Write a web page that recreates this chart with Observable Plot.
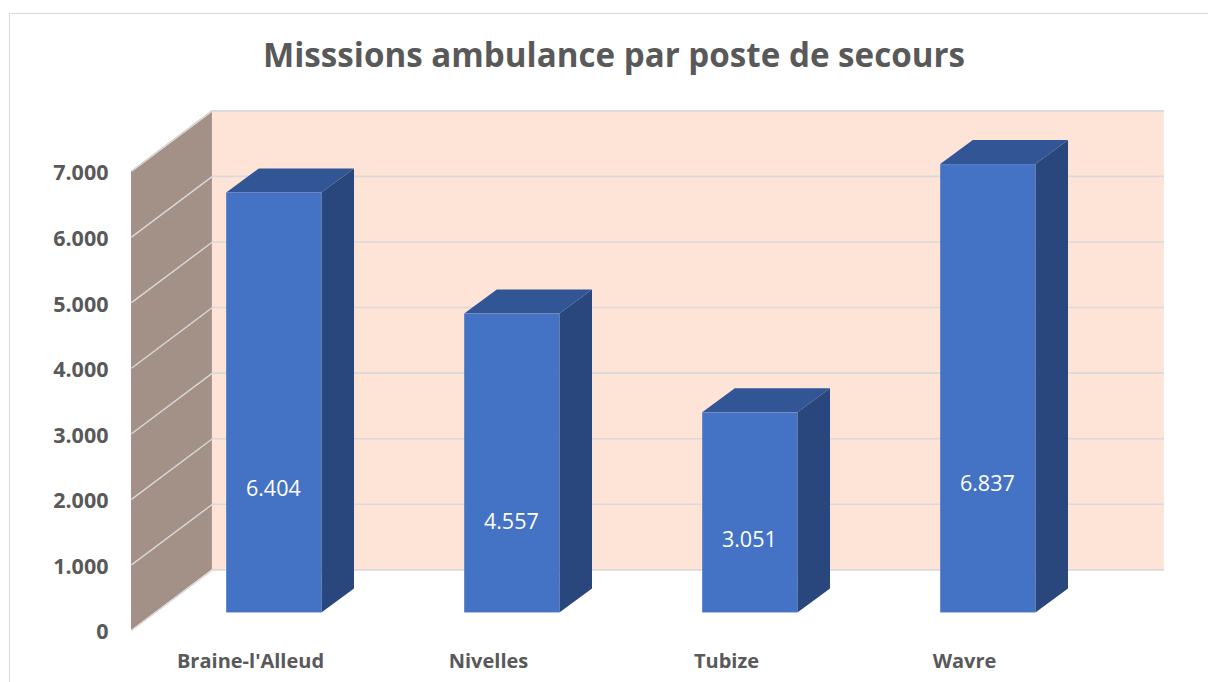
<!DOCTYPE html>
<html lang="fr">
<head>
<meta charset="utf-8">
<title>Misssions ambulance par poste de secours</title>
<script src="https://cdn.jsdelivr.net/npm/d3@7"></script>
<script src="https://cdn.jsdelivr.net/npm/@observablehq/plot@0.6"></script>
<style>
  html, body { margin: 0; padding: 0; background: #fff; }
  #chart { position: relative; width: 1208px; height: 682px; overflow: hidden; font-family: "Open Sans", sans-serif; }
  #frame { position: absolute; left: 9px; top: 13px; width: 1300px; height: 800px; border: 1.5px solid #d9d9d9; box-sizing: border-box; }
  #title { position: absolute; left: 0; top: 0; width: 1228px; height: 100px; line-height: 110px; text-align: center; font-size: 33.15px; font-weight: 700; color: #595959; white-space: nowrap; }
  #plot { position: absolute; left: 0; top: 100px; }
  #plot svg { display: block; background: transparent; }
</style>
</head>
<body>
<div id="chart">
  <div id="frame"></div>
  <div id="title">Misssions ambulance par poste de secours</div>
  <div id="plot"></div>
</div>
<script>
// Data
const categories = ["Braine-l'Alleud", "Nivelles", "Tubize", "Wavre"];
const missions = [6404, 4557, 3051, 6837];
const yTicks = [0, 1000, 2000, 3000, 4000, 5000, 6000, 7000];

// 3D construction, in the units of the x scale (categories) and y scale (missions)
const wallDepthX = 0.34, wallDepthY = 925;
const barDepthX = 0.137, barDepthY = 366;
const barShift = -0.1, barWidth = 0.4, barBase = 268;
const labelLevels = [2150, 1660, 1385, 2225];
const xMin = -0.5, xMax = 3.5, yMax = 7000;

const bars = categories.map((name, i) => {
  const x1 = i + barShift, x2 = x1 + barWidth, top = barBase + missions[i];
  return {name, value: missions[i], x1, x2, top, level: labelLevels[i]};
});

const topFace = bars.flatMap(b => [
  {name: b.name, x: b.x1, y1: b.top, y2: b.top},
  {name: b.name, x: b.x1 + barDepthX, y1: b.top, y2: b.top + barDepthY},
  {name: b.name, x: b.x2, y1: b.top, y2: b.top + barDepthY},
  {name: b.name, x: b.x2 + barDepthX, y1: b.top + barDepthY, y2: b.top + barDepthY}
]);
const sideFace = bars.flatMap(b => [
  {name: b.name, x: b.x2, y1: barBase, y2: b.top},
  {name: b.name, x: b.x2 + barDepthX, y1: barBase + barDepthY, y2: b.top + barDepthY}
]);
const leftWall = [
  {x: xMin, y1: 0, y2: yMax},
  {x: xMin + wallDepthX, y1: wallDepthY, y2: yMax + wallDepthY}
];

const fmt = d3.formatLocale({decimal: ",", thousands: ".", grouping: [3], currency: ["", " €"]}).format(",");
const gridColor = "#d9d9d9";

const chart = Plot.plot({
  width: 1208,
  height: 582,
  marginLeft: 131,
  marginRight: 125,
  marginTop: 0,
  marginBottom: 52,
  style: {background: "transparent", fontFamily: "'Open Sans', sans-serif", overflow: "visible"},
  x: {type: "linear", domain: [xMin, xMax], range: [131, 1083]},
  y: {type: "linear", domain: [0, yMax], range: [530, 71]},
  marks: [
    Plot.rect([{}], {
      x1: xMin + wallDepthX, x2: xMax + wallDepthX,
      y1: wallDepthY, y2: yMax + wallDepthY, fill: "#fde4d7"
    }),
    Plot.areaY(leftWall, {x: "x", y1: "y1", y2: "y2", fill: "#a39188", curve: "linear"}),
    Plot.ruleY(yTicks, {
      y: d => d + wallDepthY, x1: xMin + wallDepthX, x2: xMax + wallDepthX,
      stroke: gridColor, strokeWidth: 1.6
    }),
    Plot.link(yTicks, {
      x1: xMin, y1: d => d, x2: xMin + wallDepthX, y2: d => d + wallDepthY,
      stroke: gridColor, strokeWidth: 1.4
    }),
    Plot.areaY(sideFace, {x: "x", y1: "y1", y2: "y2", z: "name", fill: "#29477c", curve: "linear"}),
    Plot.areaY(topFace, {x: "x", y1: "y1", y2: "y2", z: "name", fill: "#325595", curve: "linear"}),
    Plot.rect(bars, {x1: "x1", x2: "x2", y1: barBase, y2: "top", fill: "#4472c4"}),
    Plot.text(bars, {
      x: b => (b.x1 + b.x2) / 2, y: "level", text: b => fmt(b.value),
      fill: "white", fontSize: 21.5, dx: -1
    }),
    Plot.axisY({
      ticks: yTicks, tickFormat: fmt, tickSize: 0, tickPadding: 23, label: null,
      fontSize: 21.5, fontWeight: 700, fill: "#595959", dy: 2
    }),
    Plot.axisX({
      ticks: categories.map((_, i) => i), tickFormat: i => categories[i], tickSize: 0,
      tickPadding: 23, label: null, fontSize: 20, fontWeight: 700, fill: "#595959"
    })
  ]
});
document.getElementById("plot").append(chart);
</script>
</body>
</html>
